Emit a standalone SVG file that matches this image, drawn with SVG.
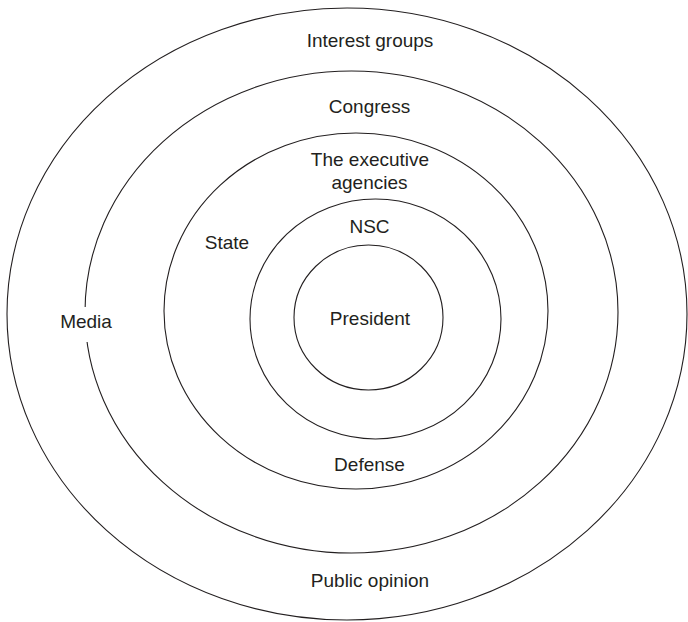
<svg xmlns="http://www.w3.org/2000/svg" width="688" height="622" viewBox="0 0 688 622">
  <style>
    .ring { fill: none; stroke: #231f20; stroke-width: 1.1; }
    .lbl { font-family: "Liberation Sans", Arial, sans-serif; font-size: 19px; fill: #231f20; text-anchor: middle; }
  </style>
  <rect width="688" height="622" fill="#ffffff"/>
  <g id="outer-ring">
    <ellipse class="ring" cx="347" cy="314" rx="340" ry="306"/>
    <text class="lbl" x="370" y="47">Interest groups</text>
    <text class="lbl" x="370" y="587">Public opinion</text>
  </g>
  <g id="congress-ring">
    <ellipse class="ring" cx="351.5" cy="312" rx="266.5" ry="241"/>
    <text class="lbl" x="369.5" y="113">Congress</text>
  </g>
  <g id="media">
    <rect x="58" y="307" width="56" height="35" fill="#ffffff"/>
    <text class="lbl" x="86" y="328">Media</text>
  </g>
  <g id="executive-ring">
    <ellipse class="ring" cx="356" cy="311" rx="192" ry="178"/>
    <text class="lbl" x="370" y="165.5">The executive</text>
    <text class="lbl" x="369.5" y="188.5">agencies</text>
    <text class="lbl" x="227" y="249">State</text>
    <text class="lbl" x="369.5" y="471">Defense</text>
  </g>
  <g id="nsc-ring">
    <ellipse class="ring" cx="375.5" cy="319" rx="125.5" ry="120"/>
    <text class="lbl" x="369.5" y="232.5">NSC</text>
  </g>
  <g id="president">
    <ellipse class="ring" cx="368.5" cy="317.5" rx="74.5" ry="72.5"/>
    <text class="lbl" x="370" y="325">President</text>
  </g>
</svg>
